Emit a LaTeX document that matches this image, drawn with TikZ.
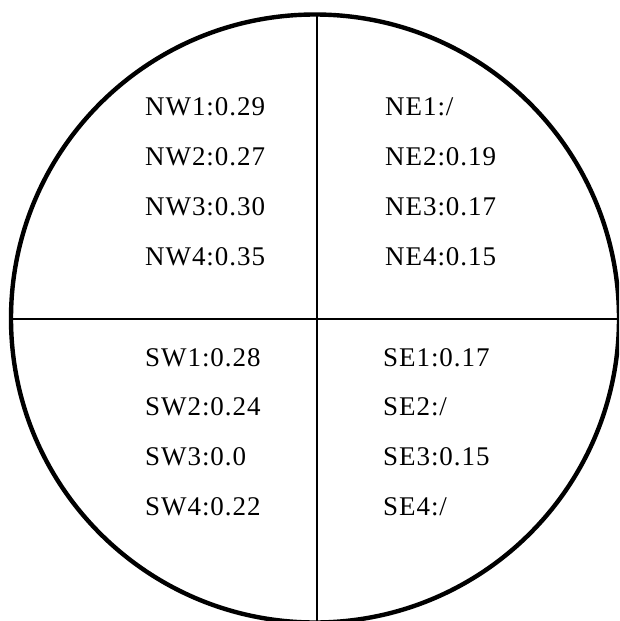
\documentclass[tikz,border=0pt]{standalone}
\usepackage{fontspec}
\setmainfont{Liberation Serif}
\newfontfamily\lblfont[LetterSpace=3.5]{Liberation Serif}
\begin{document}
\begin{tikzpicture}[x=1pt,y=-1pt,
  lbl/.style={anchor=base west,inner sep=0pt,font=\lblfont\fontsize{27}{32}\selectfont}]
\useasboundingbox (0,0) rectangle (619,621);
\begin{scope}
\clip (0,0) rectangle (619,621);
\node[draw,circle,line width=4.4pt,minimum size=608pt,inner sep=0pt] (c) at (315,318.5) {};
\coordinate (t) at (317,13);
\coordinate (b) at (317,621);
\coordinate (l) at (10,319);
\coordinate (r) at (619,319);
\draw[line width=1.6pt] (t) -- (b);
\draw[line width=1.6pt] (l) -- (r);
\end{scope}
\node[lbl] (nw1) at (145,115) {NW1:0.29};
\node[lbl] (nw2) at (145,165) {NW2:0.27};
\node[lbl] (nw3) at (145,215) {NW3:0.30};
\node[lbl] (nw4) at (145,265) {NW4:0.35};
\node[lbl] (ne1) at (385,115) {NE1:/};
\node[lbl] (ne2) at (385,165) {NE2:0.19};
\node[lbl] (ne3) at (385,215) {NE3:0.17};
\node[lbl] (ne4) at (385,265) {NE4:0.15};
\node[lbl] (sw1) at (145,366) {SW1:0.28};
\node[lbl] (sw2) at (145,415) {SW2:0.24};
\node[lbl] (sw3) at (145,465) {SW3:0.0};
\node[lbl] (sw4) at (145,515) {SW4:0.22};
\node[lbl] (se1) at (383,366) {SE1:0.17};
\node[lbl] (se2) at (383,415) {SE2:/};
\node[lbl] (se3) at (383,465) {SE3:0.15};
\node[lbl] (se4) at (383,515) {SE4:/};
\end{tikzpicture}
\end{document}
